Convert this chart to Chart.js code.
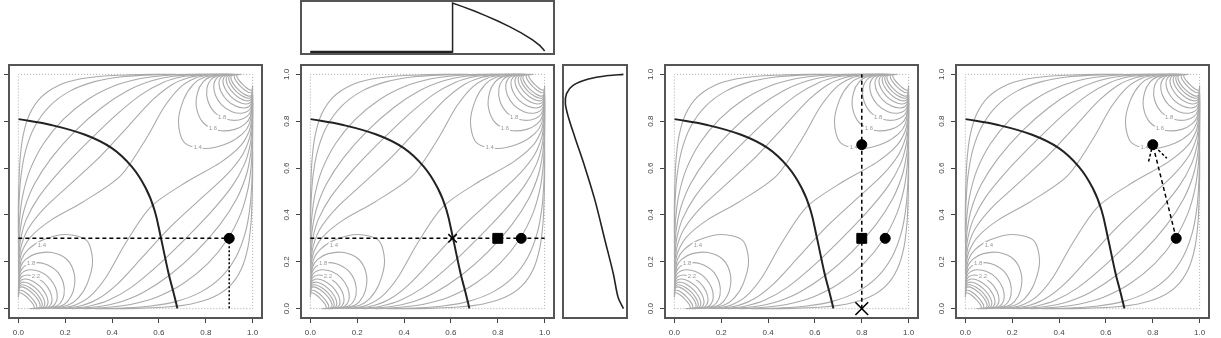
<!DOCTYPE html>
<html>
<head>
<meta charset="utf-8">
<script src="https://cdn.jsdelivr.net/npm/chart.js@4.4.1/dist/chart.umd.min.js"></script>
<style>
  body { margin: 0; background: #fff; width: 1221px; height: 338px; overflow: hidden; position: relative; }
  canvas { position: absolute; }
</style>
</head>
<body>
<canvas id="top" width="263" height="58" style="left:296px;top:0px"></canvas>
<canvas id="p1" width="286" height="279" style="left:-21px;top:63px"></canvas>
<canvas id="p2" width="286" height="279" style="left:271px;top:63px"></canvas>
<canvas id="side" width="74" height="260" style="left:558px;top:63px"></canvas>
<canvas id="p3" width="286" height="279" style="left:635px;top:63px"></canvas>
<canvas id="p4" width="286" height="279" style="left:926px;top:63px"></canvas>
<script>
// axis ticks shared by the four square panels
const axisTicks = [0, 0.2, 0.4, 0.6, 0.8, 1.0];

// black boundary curve (same in every panel)
const boundaryU = [0, 0.135, 0.285, 0.399, 0.484, 0.544, 0.581, 0.609, 0.641, 0.662, 0.679];
const boundaryV = [0.809, 0.785, 0.742, 0.685, 0.606, 0.514, 0.421, 0.3, 0.151, 0.07, 0.0];

// grey contour lines above the diagonal, levels 1.2 .. 0.1
const upperLeftLines = [
  [[0.0007,0.1473],[0.0038,0.1925],[0.0162,0.2457],[0.053,0.3067],[0.1363,0.3756],[0.2758,0.4555],[0.4345,0.5655],[0.5445,0.7242],[0.6244,0.8637],[0.6933,0.947],[0.7543,0.9838],[0.8075,0.9962],[0.8527,0.9993],[0.92,1.0]],
  [[0.0005,0.1604],[0.0031,0.2109],[0.0132,0.2713],[0.043,0.3428],[0.1093,0.427],[0.2183,0.5282],[0.3499,0.6501],[0.4718,0.7817],[0.573,0.8907],[0.6572,0.957],[0.7287,0.9868],[0.7891,0.9969],[0.8396,0.9995],[0.9135,1.0]],
  [[0.0004,0.1765],[0.0025,0.233],[0.0105,0.3011],[0.0343,0.3821],[0.0874,0.4772],[0.177,0.587],[0.2927,0.7073],[0.413,0.823],[0.5228,0.9126],[0.6179,0.9657],[0.6989,0.9895],[0.767,0.9975],[0.8235,0.9996],[0.9054,1.0]],
  [[0.0003,0.1974],[0.0019,0.2609],[0.008,0.3374],[0.0263,0.4274],[0.068,0.5306],[0.1412,0.6435],[0.2421,0.7579],[0.3565,0.8588],[0.4694,0.932],[0.5726,0.9737],[0.6626,0.992],[0.7391,0.9981],[0.8026,0.9997],[0.8945,1.0]],
  [[0.0002,0.227],[0.0014,0.2993],[0.0056,0.3852],[0.0187,0.4839],[0.0497,0.5923],[0.107,0.7039],[0.1917,0.8083],[0.2961,0.893],[0.4077,0.9503],[0.5161,0.9813],[0.6148,0.9944],[0.7007,0.9986],[0.773,1.0],[0.8784,1.0]],
  [[0.0001,0.2778],[0.0008,0.3622],[0.0032,0.4593],[0.0111,0.5656],[0.0309,0.6748],[0.0704,0.7781],[0.1345,0.8655],[0.2219,0.9296],[0.3252,0.9691],[0.4344,0.9889],[0.5407,0.9968],[0.6378,0.9992],[0.7222,1.0],[0.8493,1.0]],
  [[0.0,0.328],[0.0,0.4216],[0.002,0.5253],[0.0069,0.6335],[0.0201,0.7382],[0.0481,0.8305],[0.0972,0.9028],[0.1695,0.9519],[0.2618,0.9799],[0.3665,0.9931],[0.4747,0.998],[0.5784,1.0],[0.672,1.0]]
];

// grey contour lines below the diagonal
const lowerRightLines = [
  [[0.1473,0.0007],[0.1925,0.0038],[0.2457,0.0162],[0.3067,0.053],[0.3756,0.1363],[0.4555,0.2758],[0.5655,0.4345],[0.7242,0.5445],[0.8637,0.6244],[0.947,0.6933],[0.9838,0.7543],[0.9962,0.8075],[0.9993,0.8527],[1.0,0.92]],
  [[0.1604,0.0005],[0.2109,0.0031],[0.2713,0.0132],[0.3428,0.043],[0.427,0.1093],[0.5282,0.2183],[0.6501,0.3499],[0.7817,0.4718],[0.8907,0.573],[0.957,0.6572],[0.9868,0.7287],[0.9969,0.7891],[0.9995,0.8396],[1.0,0.9135]],
  [[0.1765,0.0004],[0.233,0.0025],[0.3011,0.0105],[0.3821,0.0343],[0.4772,0.0874],[0.587,0.177],[0.7073,0.2927],[0.823,0.413],[0.9126,0.5228],[0.9657,0.6179],[0.9895,0.6989],[0.9975,0.767],[0.9996,0.8235],[1.0,0.9054]],
  [[0.1974,0.0003],[0.2609,0.0019],[0.3374,0.008],[0.4274,0.0263],[0.5306,0.068],[0.6435,0.1412],[0.7579,0.2421],[0.8588,0.3565],[0.932,0.4694],[0.9737,0.5726],[0.992,0.6626],[0.9981,0.7391],[0.9997,0.8026],[1.0,0.8945]],
  [[0.227,0.0002],[0.2993,0.0014],[0.3852,0.0056],[0.4839,0.0187],[0.5923,0.0497],[0.7039,0.107],[0.8083,0.1917],[0.893,0.2961],[0.9503,0.4077],[0.9813,0.5161],[0.9944,0.6148],[0.9986,0.7007],[1.0,0.773],[1.0,0.8784]],
  [[0.2778,0.0001],[0.3622,0.0008],[0.4593,0.0032],[0.5656,0.0111],[0.6748,0.0309],[0.7781,0.0704],[0.8655,0.1345],[0.9296,0.2219],[0.9691,0.3252],[0.9889,0.4344],[0.9968,0.5407],[0.9992,0.6378],[1.0,0.7222],[1.0,0.8493]],
  [[0.328,0.0],[0.4216,0.0],[0.5253,0.002],[0.6335,0.0069],[0.7382,0.0201],[0.8305,0.0481],[0.9028,0.0972],[0.9519,0.1695],[0.9799,0.2618],[0.9931,0.3665],[0.998,0.4747],[1.0,0.5784],[1.0,0.672]]
];

// arcs around the (1,1) corner, levels 1.4 .. 3.8
const topRightArcs = [
  [[0.9994,0.8709],[0.987,0.7911],[0.9577,0.7468],[0.8942,0.7062],[0.7969,0.6833],[0.7088,0.7088],[0.6833,0.7969],[0.7062,0.8942],[0.7468,0.9577],[0.7911,0.987],[0.8709,0.9994]],
  [[0.9995,0.887],[0.9903,0.822],[0.969,0.7896],[0.9236,0.7651],[0.8559,0.7606],[0.7914,0.7914],[0.7606,0.8559],[0.7651,0.9236],[0.7896,0.969],[0.822,0.9903],[0.887,0.9995]],
  [[0.9996,0.8995],[0.9925,0.8454],[0.9761,0.8207],[0.9414,0.8051],[0.8896,0.8081],[0.838,0.838],[0.8081,0.8896],[0.8051,0.9414],[0.8207,0.9761],[0.8454,0.9925],[0.8995,0.9996]],
  [[1.0,0.9096],[0.994,0.8636],[0.9809,0.8442],[0.9533,0.8341],[0.9116,0.8407],[0.8686,0.8686],[0.8407,0.9116],[0.8341,0.9533],[0.8442,0.9809],[0.8636,0.994],[0.9096,1.0]],
  [[1.0,0.9178],[0.9951,0.8782],[0.9843,0.8627],[0.9617,0.8562],[0.9271,0.8646],[0.8903,0.8903],[0.8646,0.9271],[0.8562,0.9617],[0.8627,0.9843],[0.8782,0.9951],[0.9178,1.0]],
  [[1.0,0.9247],[0.9959,0.89],[0.9869,0.8774],[0.9679,0.8735],[0.9385,0.8827],[0.9064,0.9064],[0.8827,0.9385],[0.8735,0.9679],[0.8774,0.9869],[0.89,0.9959],[0.9247,1.0]],
  [[1.0,0.9305],[0.9965,0.9],[0.9888,0.8895],[0.9726,0.8874],[0.9472,0.897],[0.9189,0.9189],[0.897,0.9472],[0.8874,0.9726],[0.8895,0.9888],[0.9,0.9965],[0.9305,1.0]],
  [[1.0,0.9355],[0.997,0.9083],[0.9904,0.8996],[0.9762,0.8988],[0.954,0.9085],[0.9287,0.9287],[0.9085,0.954],[0.8988,0.9762],[0.8996,0.9904],[0.9083,0.997],[0.9355,1.0]],
  [[1.0,0.9399],[0.9974,0.9154],[0.9916,0.9082],[0.9792,0.9083],[0.9595,0.918],[0.9367,0.9367],[0.918,0.9595],[0.9083,0.9792],[0.9082,0.9916],[0.9154,0.9974],[0.9399,1.0]],
  [[1.0,0.947],[0.998,0.927],[0.9934,0.9218],[0.9836,0.9231],[0.9677,0.9325],[0.9488,0.9488],[0.9325,0.9677],[0.9231,0.9836],[0.9218,0.9934],[0.927,0.998],[0.947,1.0]],
  [[1.0,0.9527],[0.9984,0.9359],[0.9945,0.9322],[0.9866,0.9342],[0.9735,0.9431],[0.9575,0.9575],[0.9431,0.9735],[0.9342,0.9866],[0.9322,0.9945],[0.9359,0.9984],[0.9527,1.0]]
];

// arcs around the (0,0) corner
const bottomLeftArcs = [
  [[0.0006,0.1291],[0.013,0.2089],[0.0423,0.2532],[0.1058,0.2938],[0.2031,0.3167],[0.2912,0.2912],[0.3167,0.2031],[0.2938,0.1058],[0.2532,0.0423],[0.2089,0.013],[0.1291,0.0006]],
  [[0.0005,0.113],[0.0097,0.178],[0.031,0.2104],[0.0764,0.2349],[0.1441,0.2394],[0.2086,0.2086],[0.2394,0.1441],[0.2349,0.0764],[0.2104,0.031],[0.178,0.0097],[0.113,0.0005]],
  [[0.0004,0.1005],[0.0075,0.1546],[0.0239,0.1793],[0.0586,0.1949],[0.1104,0.1919],[0.162,0.162],[0.1919,0.1104],[0.1949,0.0586],[0.1793,0.0239],[0.1546,0.0075],[0.1005,0.0004]],
  [[0.0,0.0904],[0.006,0.1364],[0.0191,0.1558],[0.0467,0.1659],[0.0884,0.1593],[0.1314,0.1314],[0.1593,0.0884],[0.1659,0.0467],[0.1558,0.0191],[0.1364,0.006],[0.0904,0.0]],
  [[0.0,0.0822],[0.0049,0.1218],[0.0157,0.1373],[0.0383,0.1438],[0.0729,0.1354],[0.1097,0.1097],[0.1354,0.0729],[0.1438,0.0383],[0.1373,0.0157],[0.1218,0.0049],[0.0822,0.0]],
  [[0.0,0.0753],[0.0041,0.11],[0.0131,0.1226],[0.0321,0.1265],[0.0615,0.1173],[0.0936,0.0936],[0.1173,0.0615],[0.1265,0.0321],[0.1226,0.0131],[0.11,0.0041],[0.0753,0.0]],
  [[0.0,0.0695],[0.0035,0.1],[0.0112,0.1105],[0.0274,0.1126],[0.0528,0.103],[0.0811,0.0811],[0.103,0.0528],[0.1126,0.0274],[0.1105,0.0112],[0.1,0.0035],[0.0695,0.0]],
  [[0.0,0.0645],[0.003,0.0917],[0.0096,0.1004],[0.0238,0.1012],[0.046,0.0915],[0.0713,0.0713],[0.0915,0.046],[0.1012,0.0238],[0.1004,0.0096],[0.0917,0.003],[0.0645,0.0]],
  [[0.0,0.0601],[0.0026,0.0846],[0.0084,0.0918],[0.0208,0.0917],[0.0405,0.082],[0.0633,0.0633],[0.082,0.0405],[0.0917,0.0208],[0.0918,0.0084],[0.0846,0.0026],[0.0601,0.0]],
  [[0.0,0.053],[0.002,0.073],[0.0066,0.0782],[0.0164,0.0769],[0.0323,0.0675],[0.0512,0.0512],[0.0675,0.0323],[0.0769,0.0164],[0.0782,0.0066],[0.073,0.002],[0.053,0.0]],
  [[0.0,0.0473],[0.0016,0.0641],[0.0055,0.0678],[0.0134,0.0658],[0.0265,0.0569],[0.0425,0.0425],[0.0569,0.0265],[0.0658,0.0134],[0.0678,0.0055],[0.0641,0.0016],[0.0473,0.0]]
];

// contour labels
const labelText = ['1.4', '1.6', '1.8', '1.4', '1.8', '2.2'];
const labelU = [0.765, 0.83, 0.87, 0.1, 0.055, 0.075];
const labelV = [0.69, 0.768, 0.815, 0.272, 0.194, 0.136];

const unitSquare = [[0, 0], [1, 0], [1, 1], [0, 1], [0, 0]];

// panel annotations
const panel1Circles = [[0.9, 0.3]];
const panel1Dashed = [[0, 0.3], [0.9, 0.3]];
const panel1Dotted = [[0.9, 0.3], [0.9, 0]];
const panel2Dashed = [[0, 0.3], [1, 0.3]];
const panel2Cross = [[0.607, 0.3]];
const panel2Squares = [[0.8, 0.3]];
const panel2Circles = [[0.9, 0.3]];
const panel3Dashed = [[0.8, 0], [0.8, 1]];
const panel3Circles = [[0.8, 0.7], [0.9, 0.3]];
const panel3Squares = [[0.8, 0.3]];
const panel3Cross = [[0.8, 0]];
const panel4Circles = [[0.9, 0.3], [0.8, 0.7]];
const panel4Arrow = [[0.9, 0.3], [0.8, 0.7]];
const panel4ArrowHead = [[0.782, 0.628], [0.8, 0.7], [0.86, 0.642]];

// marginal densities
const topMarginU = [0, 0.607, 0.607, 0.65, 0.7, 0.75, 0.8, 0.85, 0.9, 0.95, 0.98, 0.995, 1.0];
const topMarginDensity = [0, 0, 1, 0.926, 0.835, 0.737, 0.632, 0.519, 0.392, 0.243, 0.13, 0.05, 0.02];
const sideMarginV = [1.0, 0.995, 0.98, 0.953, 0.918, 0.875, 0.818, 0.732, 0.604, 0.462, 0.29, 0.148, 0.048, 0.0];
const sideMarginDensity = [0.98, 0.72, 0.39, 0.13, 0.02, 0.0, 0.05, 0.16, 0.33, 0.5, 0.67, 0.81, 0.89, 0.98];

const pts = a => a.map(p => ({x: p[0], y: p[1]}));
const zip = (xs, ys) => xs.map((x, i) => ({x: x, y: ys[i]}));

function lineSet(data, color, width, dash, tension) {
    return {
        data: data, showLine: true, borderColor: color, borderWidth: width,
        borderDash: dash || [], pointRadius: 0, tension: tension || 0, fill: false
    };
}

function markSet(a, style, radius, width) {
    return {
        data: pts(a), showLine: false, pointStyle: style, pointRadius: radius,
        pointHoverRadius: radius, pointBackgroundColor: '#000', pointBorderColor: '#000',
        pointBorderWidth: width || 1
    };
}

// box round the plot area, like R's box()
const framePlugin = {
    id: 'frame',
    afterDraw(chart) {
        const {ctx, chartArea: a} = chart;
        ctx.save();
        ctx.strokeStyle = '#555';
        ctx.lineWidth = 2;
        ctx.strokeRect(a.left, a.top, a.right - a.left, a.bottom - a.top);
        ctx.restore();
    }
};

// contour labels, drawn right after the last grey line
const labelPlugin = {
    id: 'contourLabels',
    afterDatasetDraw(chart, args) {
        if (!chart.data.datasets[args.index].labelsAfter) return;
        const {ctx, scales: {x, y}} = chart;
        ctx.save();
        ctx.font = '6px "Liberation Sans", Arial, sans-serif';
        ctx.textAlign = 'center';
        ctx.textBaseline = 'middle';
        labelText.forEach((t, i) => {
            const px = x.getPixelForValue(labelU[i]);
            const py = y.getPixelForValue(labelV[i]);
            const w = ctx.measureText(t).width + 2;
            ctx.fillStyle = '#fff';
            ctx.fillRect(px - w / 2, py - 3, w, 6);
            ctx.fillStyle = '#999';
            ctx.fillText(t, px, py);
        });
        ctx.restore();
    }
};

const axisFont = {family: '"Liberation Sans", Arial, sans-serif', size: 8};

function squareScale(isX) {
    return {
        type: 'linear', min: -0.04, max: 1.04,
        afterBuildTicks: ax => { ax.ticks = axisTicks.map(v => ({value: v})); },
        afterFit: ax => {
            // fixed axis size, no extra room for overhanging labels
            if (isX) { ax.height = 24; ax.paddingLeft = 0; ax.paddingRight = 0; }
            else { ax.width = 30; ax.paddingTop = 0; ax.paddingBottom = 0; }
        },
        grid: {drawOnChartArea: false, drawTicks: true, tickLength: 5, color: '#444', lineWidth: 1},
        border: {display: false},
        ticks: isX
            ? {padding: 5, color: '#444', font: axisFont, maxRotation: 0, callback: v => v.toFixed(1)}
            : {padding: 4, color: '#444', font: axisFont, minRotation: 90, maxRotation: 90,
               crossAlign: 'center', callback: v => v.toFixed(1)}
    };
}

function contourSets() {
    const sets = [];
    sets.push(lineSet(pts(unitSquare), '#aaa', 1, [1, 2]));
    sets.push(lineSet(zip(boundaryU, boundaryV), '#222', 2, [], 0.4));
    const grey = upperLeftLines.concat(lowerRightLines, topRightArcs, bottomLeftArcs);
    grey.forEach((l, i) => {
        const s = lineSet(pts(l), '#aaa', 1.1, [], 0.3);
        if (i === 0) s.labelsAfter = true;
        sets.push(s);
    });
    return sets;
}

function makePanel(id, marks) {
    new Chart(document.getElementById(id), {
        type: 'scatter',
        data: {datasets: marks.concat(contourSets())},
        options: {
            responsive: false, animation: false, events: [],
            layout: {autoPadding: false, padding: {top: 2, right: 3, left: 0, bottom: 0}},
            plugins: {legend: {display: false}, tooltip: {enabled: false}},
            scales: {x: squareScale(true), y: squareScale(false)}
        },
        plugins: [framePlugin, labelPlugin]
    });
}

makePanel('p1', [
    markSet(panel1Circles, 'circle', 5),
    lineSet(pts(panel1Dashed), '#000', 1.5, [4, 3]),
    lineSet(pts(panel1Dotted), '#000', 1.5, [2, 2])
]);

makePanel('p2', [
    markSet(panel2Circles, 'circle', 5),
    markSet(panel2Squares, 'rect', 7),
    markSet(panel2Cross, 'crossRot', 6, 1.5),
    lineSet(pts(panel2Dashed), '#000', 1.5, [4, 3])
]);

makePanel('p3', [
    markSet(panel3Circles, 'circle', 5),
    markSet(panel3Squares, 'rect', 7),
    markSet(panel3Cross, 'crossRot', 9, 1.6),
    lineSet(pts(panel3Dashed), '#000', 1.5, [4, 3])
]);

makePanel('p4', [
    markSet(panel4Circles, 'circle', 5),
    lineSet(pts(panel4Arrow), '#000', 1.5, [4, 3]),
    lineSet(pts(panel4ArrowHead), '#000', 1.5, [3, 2])
]);

const hiddenScale = {type: 'linear', min: -0.04, max: 1.04, display: false};

// the zero stretch of the top margin is drawn heavier, as in the original
const topFlat = zip(topMarginU.slice(0, 2), topMarginDensity.slice(0, 2));

new Chart(document.getElementById('top'), {
    type: 'scatter',
    data: {datasets: [
        lineSet(topFlat, '#222', 2.6, [], 0),
        lineSet(zip(topMarginU, topMarginDensity), '#222', 1.5, [], 0)
    ]},
    options: {
        responsive: false, animation: false, events: [],
        layout: {autoPadding: false, padding: {top: 1, right: 5, left: 5, bottom: 4}},
        plugins: {legend: {display: false}, tooltip: {enabled: false}},
        scales: {x: hiddenScale, y: hiddenScale}
    },
    plugins: [framePlugin]
});

new Chart(document.getElementById('side'), {
    type: 'scatter',
    data: {datasets: [lineSet(zip(sideMarginDensity, sideMarginV), '#222', 1.6, [], 0.3)]},
    options: {
        responsive: false, animation: false, events: [],
        layout: {autoPadding: false, padding: {top: 2, right: 5, left: 5, bottom: 5}},
        plugins: {legend: {display: false}, tooltip: {enabled: false}},
        scales: {x: hiddenScale, y: hiddenScale}
    },
    plugins: [framePlugin]
});
</script>
</body>
</html>
